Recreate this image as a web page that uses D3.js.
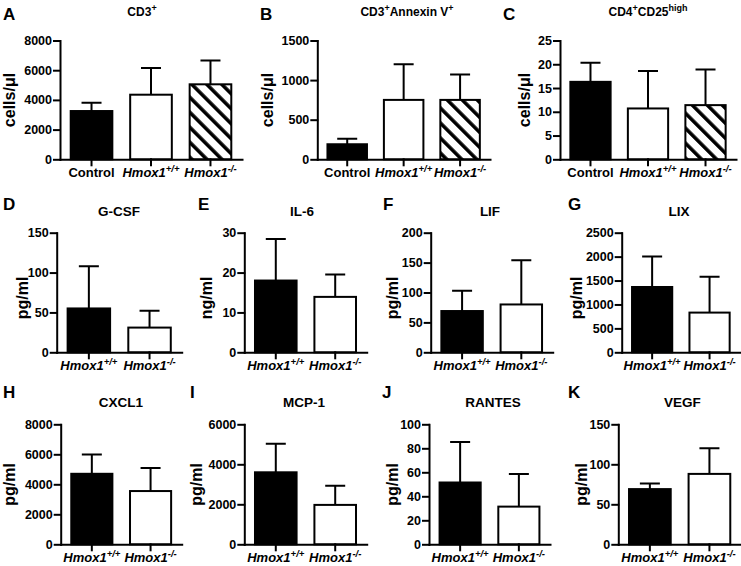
<!DOCTYPE html>
<html>
<head>
<meta charset="utf-8">
<script src="https://cdnjs.cloudflare.com/ajax/libs/d3/7.8.5/d3.min.js"></script>
<style>
  body { margin: 0; background: #fff; }
  svg { display: block; font-family: "Liberation Sans", Arial, Helvetica, sans-serif; font-weight: bold; }
</style>
</head>
<body>
<svg id="chart" width="741" height="566"></svg>
<script>
// text of each panel ({...} marks a superscript)
const panelLetters = ["A", "B", "C", "D", "E", "F", "G", "H", "I", "J", "K"];
const panelTitles = ["CD3{+}", "CD3{+}Annexin V{+}", "CD4{+}CD25{high}", "G-CSF", "IL-6", "LIF", "LIX",
                     "CXCL1", "MCP-1", "RANTES", "VEGF"];
const panelUnits = ["cells/μl", "cells/μl", "cells/μl", "pg/ml", "ng/ml", "pg/ml", "pg/ml",
                    "pg/ml", "pg/ml", "pg/ml", "pg/ml"];

const groups3 = ["Control", "Hmox1{+/+}", "Hmox1{-/-}"];
const groups2 = ["Hmox1{+/+}", "Hmox1{-/-}"];

// y tick labels
const yTicks = [
  [0, 2000, 4000, 6000, 8000],
  [0, 500, 1000, 1500],
  [0, 5, 10, 15, 20, 25],
  [0, 50, 100, 150],
  [0, 10, 20, 30],
  [0, 50, 100, 150, 200],
  [0, 500, 1000, 1500, 2000, 2500],
  [0, 2000, 4000, 6000, 8000],
  [0, 2000, 4000, 6000],
  [0, 20, 40, 60, 80, 100],
  [0, 50, 100, 150]
];

// bar means
const means = [
  [3250, 4350, 5050],
  [190, 750, 750],
  [16.3, 10.7, 11.4],
  [55, 31],
  [18.0, 13.9],
  [69, 80],
  [1365, 830],
  [4700, 3550],
  [3600, 1970],
  [51.5, 31.4],
  [69, 88]
];

// upper error bar length
const errors = [
  [550, 1800, 1600],
  [70, 450, 320],
  [4.0, 7.9, 7.5],
  [53, 21],
  [10.4, 5.6],
  [34, 74],
  [640, 750],
  [1280, 1530],
  [1430, 960],
  [33.8, 27.2],
  [7, 32]
];

// ---- layout ----
const rows = [
  { top: 40.5, base: 159.3, letterY: 20, titleY: 15.5, labelY: 100, titleSize: 12 },
  { top: 232.7, base: 352.3, letterY: 210, titleY: 216, labelY: 298, titleSize: 13.5 },
  { top: 424.3, base: 544.3, letterY: 398, titleY: 406.5, labelY: 484.5, titleSize: 13.5 }
];
const layout = [
  { row: 0, x0: 60, x1: 242, letterX: 3, titleX: 142, labelX: 15 },
  { row: 0, x0: 317.3, x1: 490, letterX: 260, titleX: 407, labelX: 273 },
  { row: 0, x0: 560, x1: 736, letterX: 503, titleX: 648, labelX: 530 },
  { row: 1, x0: 56.7, x1: 181.7, letterX: 3, titleX: 119, labelX: 28 },
  { row: 1, x0: 244.3, x1: 366.7, letterX: 198, titleX: 302, labelX: 211.5 },
  { row: 1, x0: 430.7, x1: 552.7, letterX: 383, titleX: 490, labelX: 398 },
  { row: 1, x0: 621.7, x1: 740, letterX: 568, titleX: 679, labelX: 581.5 },
  { row: 2, x0: 60.7, x1: 181.7, letterX: 3, titleX: 121, labelX: 15 },
  { row: 2, x0: 244.3, x1: 366.7, letterX: 190, titleX: 304, labelX: 202 },
  { row: 2, x0: 429, x1: 550, letterX: 382, titleX: 493, labelX: 398 },
  { row: 2, x0: 618.3, x1: 741, letterX: 568, titleX: 682.5, labelX: 586.5 }
];

const fills3 = ["#000", "#fff", "url(#hatch)"];
const fills2 = ["#000", "#fff"];

const svg = d3.select("#chart");

// diagonal hatch for the knockout bars
const pat = svg.append("defs").append("pattern")
  .attr("id", "hatch")
  .attr("patternUnits", "userSpaceOnUse")
  .attr("width", 10.6).attr("height", 10)
  .attr("patternTransform", "rotate(-45)");
pat.append("rect").attr("width", 10.6).attr("height", 10).attr("fill", "#fff");
pat.append("rect").attr("width", 3.6).attr("height", 10).attr("fill", "#000");

// writes a string into a text element, {..} parts raised as superscript
function richText(sel, str, supSize) {
  const parts = str.split(/(\{[^}]*\})/).filter(s => s.length);
  let raised = false;
  parts.forEach(s => {
    if (s[0] === "{") {
      sel.append("tspan").text(s.slice(1, -1)).attr("font-size", supSize).attr("dy", -5);
      raised = true;
    } else {
      const t = sel.append("tspan").text(s);
      if (raised) { t.attr("dy", 5); raised = false; }
    }
  });
}

layout.forEach((p, i) => {
  const r = rows[p.row];
  const cats = i < 3 ? groups3 : groups2;
  const fills = i < 3 ? fills3 : fills2;

  const y = d3.scaleLinear()
    .domain([0, d3.max(yTicks[i])])
    .range([r.base, r.top]);
  const x = d3.scaleBand()
    .domain(cats)
    .range([p.x0, p.x1])
    .paddingInner(0.3)
    .paddingOuter(0.18);

  const g = svg.append("g");

  // bars
  g.selectAll("rect.bar")
    .data(cats)
    .join("rect")
    .attr("class", "bar")
    .attr("x", d => x(d))
    .attr("width", x.bandwidth())
    .attr("y", (d, j) => y(means[i][j]))
    .attr("height", (d, j) => y(0) - y(means[i][j]))
    .attr("fill", (d, j) => fills[j])
    .attr("stroke", "#000")
    .attr("stroke-width", 2);

  // upper error bars
  const cx = d => x(d) + x.bandwidth() / 2;
  g.selectAll("path.err")
    .data(cats)
    .join("path")
    .attr("class", "err")
    .attr("d", (d, j) => {
      const top = y(means[i][j] + errors[i][j]);
      return "M" + cx(d) + "," + y(means[i][j]) + "V" + top +
             "M" + (cx(d) - 10) + "," + top + "H" + (cx(d) + 10);
    })
    .attr("fill", "none")
    .attr("stroke", "#000")
    .attr("stroke-width", 2);

  // y axis
  const yAxis = g.append("g")
    .attr("transform", "translate(" + p.x0 + ",0)")
    .call(d3.axisLeft(y)
      .tickValues(yTicks[i])
      .tickFormat(d3.format("d"))
      .tickSize(6)
      .tickSizeOuter(0)
      .tickPadding(2));

  // x axis
  const xAxis = g.append("g")
    .attr("transform", "translate(0," + r.base + ")")
    .call(d3.axisBottom(x)
      .tickSize(6)
      .tickSizeOuter(0)
      .tickFormat(""));

  [yAxis, xAxis].forEach(a => {
    a.attr("font-family", null).attr("font-size", null);
    a.selectAll("path, line")
      .attr("stroke", "#000")
      .attr("stroke-width", 2)
      .attr("stroke-linecap", "square");
  });
  yAxis.selectAll("text")
    .attr("fill", "#000")
    .attr("font-size", 12.5);

  // category labels
  cats.forEach(c => {
    const t = g.append("text")
      .attr("x", cx(c))
      .attr("y", r.base + 18)
      .attr("text-anchor", "middle")
      .attr("font-size", 13)
      .attr("font-style", c.startsWith("Hmox") ? "italic" : "normal");
    richText(t, c, 9.5);
  });

  // title
  const title = g.append("text")
    .attr("x", p.titleX)
    .attr("y", r.titleY)
    .attr("text-anchor", "middle")
    .attr("font-size", r.titleSize);
  richText(title, panelTitles[i], 9);

  // panel letter
  g.append("text")
    .attr("x", p.letterX)
    .attr("y", r.letterY)
    .attr("font-size", 17)
    .text(panelLetters[i]);

  // unit label
  g.append("text")
    .attr("transform", "translate(" + p.labelX + "," + r.labelY + ") rotate(-90)")
    .attr("text-anchor", "middle")
    .attr("font-size", 16)
    .text(panelUnits[i]);
});
</script>
</body>
</html>
